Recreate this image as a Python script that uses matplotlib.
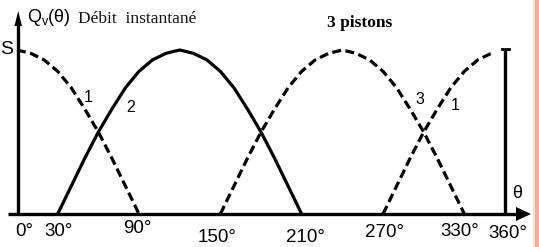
import matplotlib
matplotlib.use("Agg")
import matplotlib.pyplot as plt
from matplotlib.patches import Polygon

# piston flow curves (1.0 = peak)
THETA_P1A = [0, 10, 20, 30, 40, 50, 60, 70, 80, 90]
Q_P1A = [1.0, 0.98, 0.94, 0.87, 0.77, 0.64, 0.50, 0.34, 0.17, 0.0]
THETA_P2 = [30, 40, 50, 60, 70, 80, 90, 100, 110, 120, 130, 140, 150, 160,
            170, 180, 190, 200, 210]
Q_P2 = [0.0, 0.17, 0.34, 0.50, 0.64, 0.77, 0.87, 0.94, 0.98, 1.0, 0.98,
        0.94, 0.87, 0.77, 0.64, 0.50, 0.34, 0.17, 0.0]
THETA_P3 = [150, 160, 170, 180, 190, 200, 210, 220, 230, 240, 250, 260,
            270, 280, 290, 300, 310, 320, 330]
Q_P3 = [0.0, 0.17, 0.34, 0.50, 0.64, 0.77, 0.87, 0.94, 0.98, 1.0, 0.98,
        0.94, 0.87, 0.77, 0.64, 0.50, 0.34, 0.17, 0.0]
THETA_P1B = [270, 280, 290, 300, 310, 320, 330, 340, 350]
Q_P1B = [0.0, 0.17, 0.34, 0.50, 0.64, 0.77, 0.87, 0.94, 0.98]

TICK_LABELS = ["0°", "30°", "90°", "150°", "210°", "270°", "330°", "360°"]
# tick label centres in the scan (px), they wobble a little
TICK_X = [24, 59, 137, 217, 305, 385, 460, 508]
TICK_Y = [231, 231, 228, 237, 237, 232, 231, 233]

INK = "black"
SANS = "Liberation Sans"
SERIF = "Liberation Serif"

# pixel layout of the scan
PX0, PX_PER_DEG = 17.0, 1.3556
PY0, PX_PER_UNIT = 214.0, 164.0
W, H = 539, 247


def dx(p):
    return (p - PX0) / PX_PER_DEG


def dy(p):
    return (PY0 - p) / PX_PER_UNIT


fig = plt.figure(figsize=(W / 100, H / 100), dpi=100)
fig.patch.set_facecolor("white")
ax = fig.add_axes([0, 0, 1, 1])
ax.set_xlim(dx(0), dx(W))
ax.set_ylim(dy(H), dy(0))
ax.axis("off")

LW = 2.3
dash = (2.8, 1.4)

ax.plot(THETA_P1A, Q_P1A, color=INK, lw=LW, dashes=dash)
ax.plot(THETA_P1B, Q_P1B, color=INK, lw=LW, dashes=dash)
ax.plot(THETA_P3, Q_P3, color=INK, lw=LW, dashes=dash)
ax.plot(THETA_P2, Q_P2, color=INK, lw=LW)

# axes with arrow heads
ax.plot([dx(8), dx(518)], [0, 0], color=INK, lw=2.4, solid_capstyle="butt")
ax.add_patch(Polygon([[dx(516), dy(207)], [dx(531), dy(214)],
                      [dx(516), dy(221)]], closed=True, color=INK, lw=0))
ax.plot([dx(18), dx(18)], [0, dy(24)], color=INK, lw=2.4,
        solid_capstyle="butt")
ax.add_patch(Polygon([[dx(14.5), dy(26)], [dx(18.2), dy(11)],
                      [dx(22), dy(26)]], closed=True, color=INK, lw=0))

# end-of-cycle bar at 360°
ax.plot([360, 360], [0, dy(49)], color=INK, lw=2.4, solid_capstyle="butt")
ax.plot([dx(502), dx(509)], [dy(49), dy(49)], color=INK, lw=2.0)

# tick labels
for x, y, lab in zip(TICK_X, TICK_Y, TICK_LABELS):
    ax.text(dx(x), dy(y), lab, ha="center", va="center", fontsize=13.5,
            family=SANS, color=INK)

# curve numbers
for x, y, lab in [(88, 98, "1"), (131, 108, "2"), (420, 100, "3"),
                  (455, 105, "1")]:
    ax.text(dx(x), dy(y), lab, ha="center", va="center", fontsize=11.5,
            family=SANS, color=INK)

ax.text(dx(27), dy(18), r"Q$_\mathregular{v}$(θ)", ha="left", va="center",
        fontsize=13, family=SANS, color=INK)
ax.text(dx(78), dy(19), "Débit  instantané", ha="left", va="center",
        fontsize=12.5, family=SERIF, color="#111111")
ax.text(dx(360), dy(23), "3 pistons", ha="center", va="center",
        fontsize=12.5, family=SERIF, fontweight="bold", color=INK)
ax.text(dx(517), dy(194), "θ", ha="center", va="center", fontsize=13,
        family=SANS, color=INK)
ax.text(dx(13), dy(49), "S", ha="right", va="center", fontsize=14,
        family=SANS, color=INK)

# pink strip at the right edge of the scan
ax.axvspan(dx(533), dx(535), color="#fcdcd4", lw=0)
ax.axvspan(dx(535), dx(W), color="#f9ab9c", lw=0)

fig.savefig("out.png", dpi=100)
